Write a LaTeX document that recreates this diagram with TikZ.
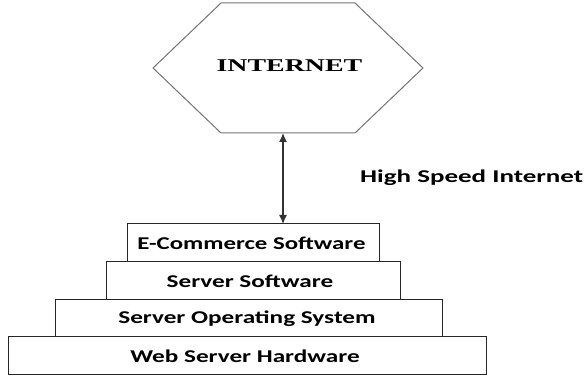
\documentclass[tikz,border=0pt]{standalone}
\usepackage{fontspec}
\setmainfont{Carlito}
\newfontfamily\hexfont{Liberation Serif}
\usetikzlibrary{arrows.meta}
\tikzset{
  layer/.style={draw=black!85, line width=1pt},
  lbl/.style={font=\fontsize{18}{20}\selectfont\bfseries, inner sep=0pt},
  hexline/.style={draw=black!55, line width=1pt},
  link/.style={draw=black!80, line width=1.3pt, {Latex[length=9pt,width=8pt]}-{Latex[length=9pt,width=8pt]}}
}
\begin{document}
\begin{tikzpicture}[x=1pt,y=-1pt]
\useasboundingbox (0,0) rectangle (584,379);
% hexagon
\draw[hexline] (221,3) -- (355,3) -- (423,68) -- (355,133) -- (221,133) -- (153,68) -- cycle;
\node[inner sep=0pt, font=\hexfont\fontsize{18}{20}\selectfont\bfseries] (inet) at (289.5,66) {\scalebox{1.55}[1]{INTERNET}};
\coordinate (hexbot) at (283,133);
% layers
\draw[layer] (127,224) rectangle (379,262);
\draw[layer] (106,262) rectangle (400,300);
\draw[layer] (55,300) rectangle (442,337);
\draw[layer] (8,337) rectangle (486,375);
\node[lbl] (ecom) at (251.5,243) {\scalebox{1.38}[1]{E-Commerce Software}};
\node[lbl] (ssw) at (250,281) {\scalebox{1.4}[1]{Server Software}};
\node[lbl] (sos) at (247,318.5) {\scalebox{1.4}[1]{Server Operating System}};
\node[lbl] (hw) at (245,356) {\scalebox{1.4}[1]{Web Server Hardware}};
\coordinate (boxtop) at (283,224);
\draw[link] (hexbot) -- (boxtop);
\node[lbl, anchor=west] (hs) at (360,178) {\scalebox{1.5}[1]{High Speed Internet}};
\end{tikzpicture}
\end{document}
